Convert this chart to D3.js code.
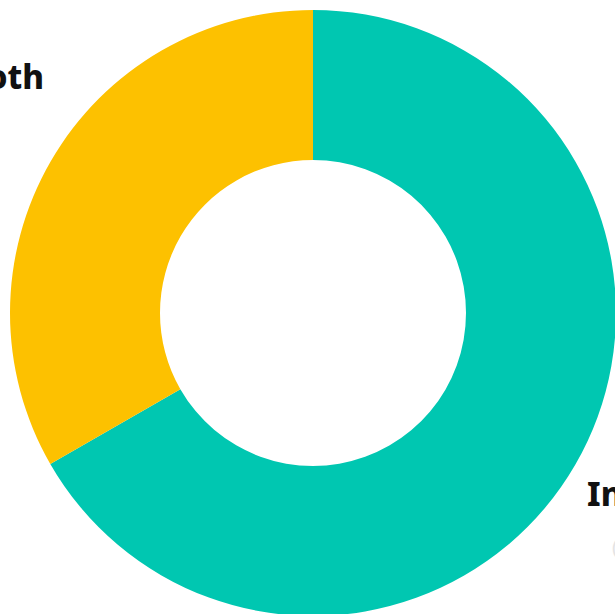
<!DOCTYPE html>
<html>
<head>
<meta charset="utf-8">
<script src="https://cdn.jsdelivr.net/npm/d3@7"></script>
<style>
  html, body { margin: 0; padding: 0; background: #fff; overflow: hidden; }
  svg { display: block; }
</style>
</head>
<body>
<svg id="chart" width="615" height="614"></svg>
<script>
const categories = ["Individual", "Both"];
const values = [66.7, 33.3];
const subLabels = ["(67%)", ""];
const colors = ["#00C7B1", "#FDC100"];

const svg = d3.select("#chart");
const cx = 313, cy = 313, outerR = 303, innerR = 153;

const data = categories.map((c, i) => ({ name: c, value: values[i], sub: subLabels[i], color: colors[i] }));

const pie = d3.pie().value(d => d.value).sort(null);
const arc = d3.arc().innerRadius(innerR).outerRadius(outerR);

const g = svg.append("g").attr("transform", `translate(${cx},${cy})`);

g.selectAll("path")
  .data(pie(data))
  .join("path")
  .attr("d", arc)
  .attr("fill", d => d.data.color);

// Labels
const labelPos = {
  "Individual": { x: 587 - cx, y: 506 - cy, anchor: "start" },
  "Both": { x: 44 - cx, y: 89 - cy, anchor: "end" }
};

data.forEach(d => {
  const p = labelPos[d.name];
  g.append("text")
    .attr("x", p.x)
    .attr("y", p.y)
    .attr("text-anchor", p.anchor)
    .attr("font-family", "'Noto Sans', 'Open Sans', sans-serif")
    .attr("font-weight", 800)
    .attr("font-size", 33)
    .attr("fill", "#111")
    .text(d.name);
  if (d.sub) {
    g.append("text")
      .attr("x", p.x + 25)
      .attr("y", p.y + 48)
      .attr("text-anchor", p.anchor)
      .attr("font-family", "'Noto Sans', 'Open Sans', sans-serif")
      .attr("font-size", 20)
      .attr("fill", "#e4e4e4")
      .text(d.sub);
  }
});
</script>
</body>
</html>
